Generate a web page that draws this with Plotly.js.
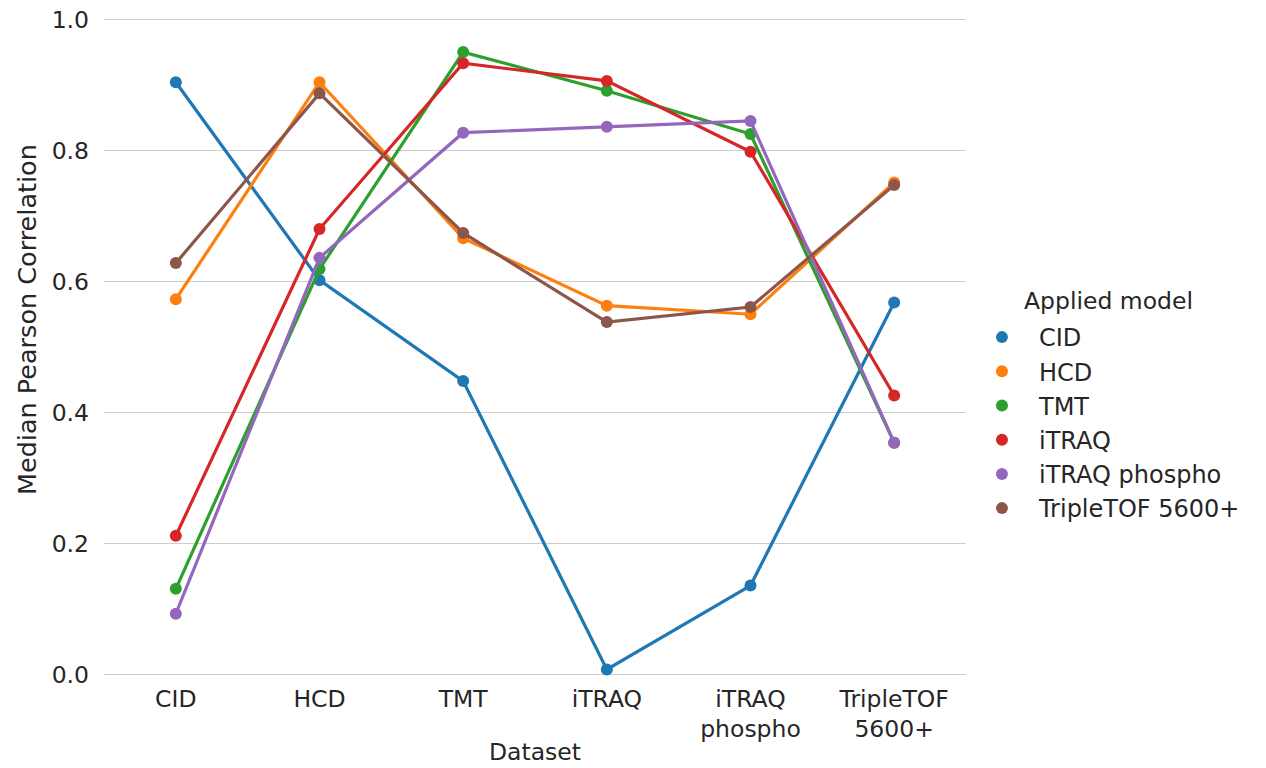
<!DOCTYPE html>
<html>
<head>
<meta charset="utf-8">
<script src="https://cdn.plot.ly/plotly-3.0.1.min.js"></script>
<style>
  html, body { margin: 0; padding: 0; background: #ffffff; }
  #chart { width: 1266px; height: 768px; }
</style>
</head>
<body>
<div id="chart"></div>
<script>
// Datasets on the x axis
const datasets = ['CID', 'HCD', 'TMT', 'iTRAQ', 'iTRAQ phospho', 'TripleTOF 5600+'];
const datasetLabels = ['CID', 'HCD', 'TMT', 'iTRAQ', 'iTRAQ<br>phospho', 'TripleTOF<br>5600+'];

// Applied models (one line each) and their median Pearson correlation per dataset
const models = ['CID', 'HCD', 'TMT', 'iTRAQ', 'iTRAQ phospho', 'TripleTOF 5600+'];
const cidModel        = [0.904, 0.602, 0.448, 0.008, 0.136, 0.568];
const hcdModel        = [0.573, 0.904, 0.666, 0.563, 0.550, 0.751];
const tmtModel        = [0.131, 0.619, 0.950, 0.891, 0.825, 0.354];
const itraqModel      = [0.212, 0.680, 0.933, 0.906, 0.798, 0.426];
const itraqPhosModel  = [0.093, 0.636, 0.827, 0.836, 0.845, 0.354];
const tripleTofModel  = [0.628, 0.887, 0.674, 0.538, 0.561, 0.747];
const modelValues = [cidModel, hcdModel, tmtModel, itraqModel, itraqPhosModel, tripleTofModel];

// y axis ticks
const yTicks = [0, 0.2, 0.4, 0.6, 0.8, 1.0];
const yTickLabels = ['0.0', '0.2', '0.4', '0.6', '0.8', '1.0'];

const colors = ['#1f77b4', '#ff7f0e', '#2ca02c', '#d62728', '#9467bd', '#8c564b'];
const textColor = '#262626';
const fontFamily = 'DejaVu Sans, sans-serif';

const traces = [];
models.forEach((name, i) => {
  // connecting line
  traces.push({
    type: 'scatter', mode: 'lines',
    x: datasets, y: modelValues[i],
    line: { color: colors[i], width: 3.2 },
    legendgroup: name,
    showlegend: false, hoverinfo: 'skip'
  });
  // point estimates (these carry the legend entry)
  traces.push({
    type: 'scatter', mode: 'markers',
    name: name,
    legendgroup: name,
    x: datasets, y: modelValues[i],
    marker: { color: colors[i], size: 12 }
  });
});

const layout = {
  width: 1266, height: 768,
  paper_bgcolor: '#ffffff', plot_bgcolor: '#ffffff',
  margin: { l: 104, r: 300, t: 17.7, b: 91.7 },
  font: { family: fontFamily, color: textColor, size: 23.5 },
  xaxis: {
    type: 'category',
    categoryorder: 'array', categoryarray: datasets,
    tickvals: datasets, ticktext: datasetLabels,
    range: [-0.5, 5.5],
    showgrid: false, zeroline: false, showline: false, ticks: '',
    ticklabelstandoff: 6,
    tickfont: { size: 23.5, color: textColor }
  },
  yaxis: {
    range: [-0.002, 1.002],
    tickvals: yTicks,
    ticktext: yTickLabels,
    showgrid: true, gridcolor: '#cccccc', gridwidth: 1.5,
    zeroline: false, showline: false, ticks: '',
    ticklabelstandoff: 14,
    tickfont: { size: 23.5, color: textColor }
  },
  legend: {
    x: 0.9988, xanchor: 'left',
    y: 0.5486, yanchor: 'top',
    bgcolor: 'rgba(0,0,0,0)',
    font: { size: 24, color: textColor },
    itemwidth: 64,
    tracegroupgap: 0,
    itemsizing: 'constant'
  },
  showlegend: true,
  annotations: [
    {
      text: 'Dataset',
      xref: 'paper', yref: 'paper',
      x: 0.5, y: (676.3 - 767.5) / 658.6,
      xanchor: 'center', yanchor: 'bottom',
      borderpad: 0,
      showarrow: false,
      font: { size: 23.5, color: textColor }
    },
    {
      text: 'Median Pearson Correlation',
      xref: 'paper', yref: 'paper',
      x: (27 - 104) / 862, y: (676.3 - 320) / 658.6,
      xanchor: 'center', yanchor: 'middle',
      textangle: -90, showarrow: false,
      font: { size: 25.5, color: textColor }
    },
    {
      text: 'Applied model',
      xref: 'paper', yref: 'paper',
      x: (1022 - 104) / 862, y: (676.3 - 301) / 658.6,
      xanchor: 'left', yanchor: 'middle',
      showarrow: false,
      font: { size: 23.5, color: textColor }
    }
  ]
};

Plotly.newPlot('chart', traces, layout, { displayModeBar: false, staticPlot: true });
</script>
</body>
</html>
